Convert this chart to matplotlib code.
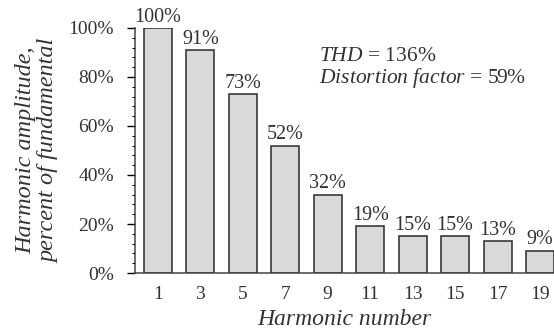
import numpy as np
import matplotlib.pyplot as plt
from matplotlib.ticker import MultipleLocator, FuncFormatter

# Harmonic spectrum data
harmonics = ['1', '3', '5', '7', '9', '11', '13', '15', '17', '19']
amplitude = [100, 91, 73, 52, 32, 19, 15, 15, 13, 9]

plt.rcParams['font.family'] = ['Liberation Serif', 'DejaVu Serif']
plt.rcParams['mathtext.fontset'] = 'custom'
plt.rcParams['mathtext.rm'] = 'Liberation Serif'
plt.rcParams['mathtext.it'] = 'Liberation Serif:italic'

txt = '#333333'

fig = plt.figure(figsize=(5.54, 3.32), dpi=100)
ax = fig.add_axes([0.2437, 0.1777, 0.7563, 0.738])

x = np.arange(len(harmonics))
bars = ax.bar(x, amplitude, width=0.66, color='#d9d9d9', edgecolor='#2a2a2a', linewidth=1.1)

# Value labels above each bar
for xi, v in zip(x, amplitude):
    ax.text(xi, v + 0.6, f'{v}%', ha='center', va='bottom', fontsize=14.5, color=txt)

ax.set_xlim(-0.54, 9.33)
ax.set_ylim(0, 100)
ax.set_xticks(x)
ax.set_xticklabels(harmonics)
ax.yaxis.set_major_locator(MultipleLocator(20))
ax.yaxis.set_minor_locator(MultipleLocator(4))
ax.yaxis.set_major_formatter(FuncFormatter(lambda v, p: f'{v:.0f}%'))

ax.tick_params(axis='x', length=0, pad=9, labelsize=14, labelcolor=txt)
ax.tick_params(axis='y', which='major', direction='out', length=6, width=1,
               pad=9, labelsize=14, labelcolor=txt)
ax.tick_params(axis='y', which='minor', direction='out', length=2.5, width=0.8)

for s in ['top', 'right']:
    ax.spines[s].set_visible(False)
for s in ['left', 'bottom']:
    ax.spines[s].set_color('#444444')
    ax.spines[s].set_linewidth(1.1)

ax.set_xlabel('Harmonic number', fontsize=17, style='italic', color=txt, labelpad=5)
ax.set_ylabel('Harmonic amplitude,\npercent of fundamental', fontsize=17.5,
              style='italic', color=txt, labelpad=7, linespacing=1.12)

ax.text(0.44, 0.835, r'$THD$ = 136%' + '\n' + r'$Distortion\ factor$ = 59%',
        transform=ax.transAxes, ha='left', va='center', fontsize=15.5,
        color=txt, linespacing=1.0)

plt.savefig('out.png', dpi=100)
